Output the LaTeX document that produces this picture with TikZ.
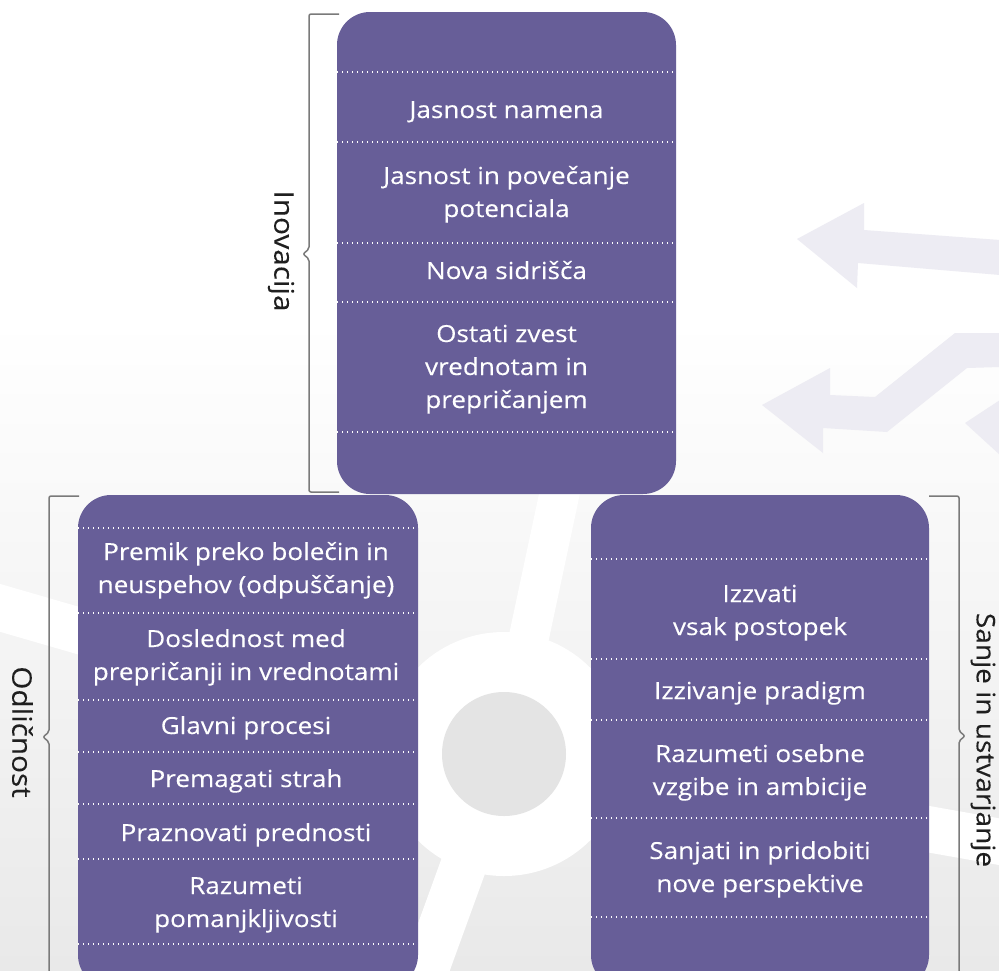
\documentclass[tikz,border=0pt]{standalone}
\usepackage{fontspec}
\setmainfont{Open Sans}
\newfontfamily\itemfont[FakeStretch=1.11, FakeBold=0.25]{Open Sans}
\newfontfamily\sidefont[FakeStretch=1.1, FakeBold=0.15]{Open Sans}
\usetikzlibrary{calc}
\definecolor{boxc}{HTML}{675E98}
\definecolor{brk}{HTML}{7A7A7A}
\definecolor{arr}{HTML}{EDECF3}
\definecolor{bgg}{HTML}{E9E9E9}
\definecolor{hub}{HTML}{E4E4E4}
\newcommand{\ml}[1]{\begin{tabular}[t]{@{}c@{}}#1\end{tabular}}
\begin{document}
\begin{tikzpicture}[x=1pt,y=-1pt,
  panel/.style={fill=boxc, draw=none, rounded corners=33pt, minimum width=#1, inner sep=0pt, outer sep=0pt},
  item/.style={text=white, font=\itemfont\fontsize{23.5}{33}\selectfont, anchor=base, inner sep=0pt},
  sepline/.style={draw=white, line width=1.4pt, dash pattern=on 1.4pt off 3.6pt},
  brace/.style={draw=brk, line width=1.5pt, rounded corners=2pt},
  side/.style={font=\sidefont\fontsize{27}{30}\selectfont, text=black!88, rotate=-90, inner sep=0pt}
]
\useasboundingbox (0,0) rectangle (999,970);
\fill[white] (0,0) rectangle (999,970);
% background
\begin{scope}
\clip (0,0) rectangle (999,970);
\shade[top color=white, bottom color=bgg] (0,320) rectangle (999,970);
\draw[white, line width=46pt] (504,754) -- (-165,560);
\draw[white, line width=46pt] (504,754) -- (1193,876);
\draw[white, line width=40pt] (504,754) -- (650,69);
\draw[white, line width=46pt] (504,754) -- (265,1412);
\fill[white] (504,754) circle (122);
\fill[hub] (504,754) circle (62);
\fill[arr] (797,239) -- (864,203) -- (864,230) -- (1000,240) -- (1000,275) -- (858,263) -- (857,288) -- cycle;
\fill[arr] (762,405) -- (830,368) -- (830,395) -- (875,397) -- (955,333) -- (1000,333) -- (1000,367) -- (967,368) -- (887,432) -- (823,428) -- (823,453) -- cycle;
\fill[arr] (965,423) -- (1000,400) -- (1000,455) -- cycle;
\end{scope}

% panels
\node[panel=339pt, minimum height=482pt] (inov) at (506.5,253) {};
\node[panel=340pt, minimum height=493pt] (odl) at (248,741.5) {};
\node[panel=338pt, minimum height=493pt] (sanje) at (760,741.5) {};

% separators
\begin{scope}
\path[clip, rounded corners=33pt] (inov.north west) rectangle (inov.south east);
\foreach \d in {60,130,231,290,420}
  \draw[sepline] ([yshift=-\d pt]inov.north west) -- ([yshift=-\d pt]inov.north east);
\end{scope}
\begin{scope}
\path[clip, rounded corners=33pt] (odl.north west) rectangle (odl.south east);
\foreach \d in {33,118,205,257,309,364,449}
  \draw[sepline] ([yshift=-\d pt]odl.north west) -- ([yshift=-\d pt]odl.north east);
\end{scope}
\begin{scope}
\path[clip, rounded corners=33pt] (sanje.north west) rectangle (sanje.south east);
\foreach \d in {64,164,225,323,422}
  \draw[sepline] ([yshift=-\d pt]sanje.north west) -- ([yshift=-\d pt]sanje.north east);
\end{scope}

% items
\node[item] (i1) at (506.5,118) {\ml{Jasnost namena}};
\node[item] (i2) at (506.5,184) {\ml{Jasnost in povečanje\\potenciala}};
\node[item] (i3) at (506.5,279) {\ml{Nova sidrišča}};
\node[item] (i4) at (506.5,342) {\ml{Ostati zvest\\vrednotam in\\prepričanjem}};

\node[item] (o1) at (246,560) {\ml{Premik preko bolečin in\\neuspehov (odpuščanje)}};
\node[item] (o2) at (246,647) {\ml{Doslednost med\\prepričanji in vrednotami}};
\node[item] (o3) at (246,734) {\ml{Glavni procesi}};
\node[item] (o4) at (246,787) {\ml{Premagati strah}};
\node[item] (o5) at (246,841) {\ml{Praznovati prednosti}};
\node[item] (o6) at (246,894) {\ml{Razumeti\\pomanjkljivosti}};

\node[item] (s1) at (760,602) {\ml{Izzvati\\vsak postopek}};
\node[item] (s2) at (760,699) {\ml{Izzivanje pradigm}};
\node[item] (s3) at (760,762) {\ml{Razumeti osebne\\vzgibe in ambicije}};
\node[item] (s4) at (760,859) {\ml{Sanjati in pridobiti\\nove perspektive}};

% braces
\coordinate (b1t) at (339,14);
\coordinate (b1b) at (339,492);
\draw[brace] (b1t) -- (309,14) -- (309,249) -- (303,254) -- (309,259) -- (309,492) -- (b1b);
\node[side] (linov) at (281,251) {Inovacija};

\coordinate (b2t) at (79,496);
\draw[brace] (b2t) -- (49,496) -- (49,732) -- (43,737) -- (49,742) -- (49,980);
\node[side] (lodl) at (22.5,732) {Odličnost};

\coordinate (b3t) at (929,496);
\draw[brace] (b3t) -- (959,496) -- (959,731) -- (965,736) -- (959,741) -- (959,980);
\node[side, font=\sidefont\fontsize{25.5}{28}\selectfont] (lsanje) at (983,740) {Sanje in ustvarjanje};
\end{tikzpicture}
\end{document}
